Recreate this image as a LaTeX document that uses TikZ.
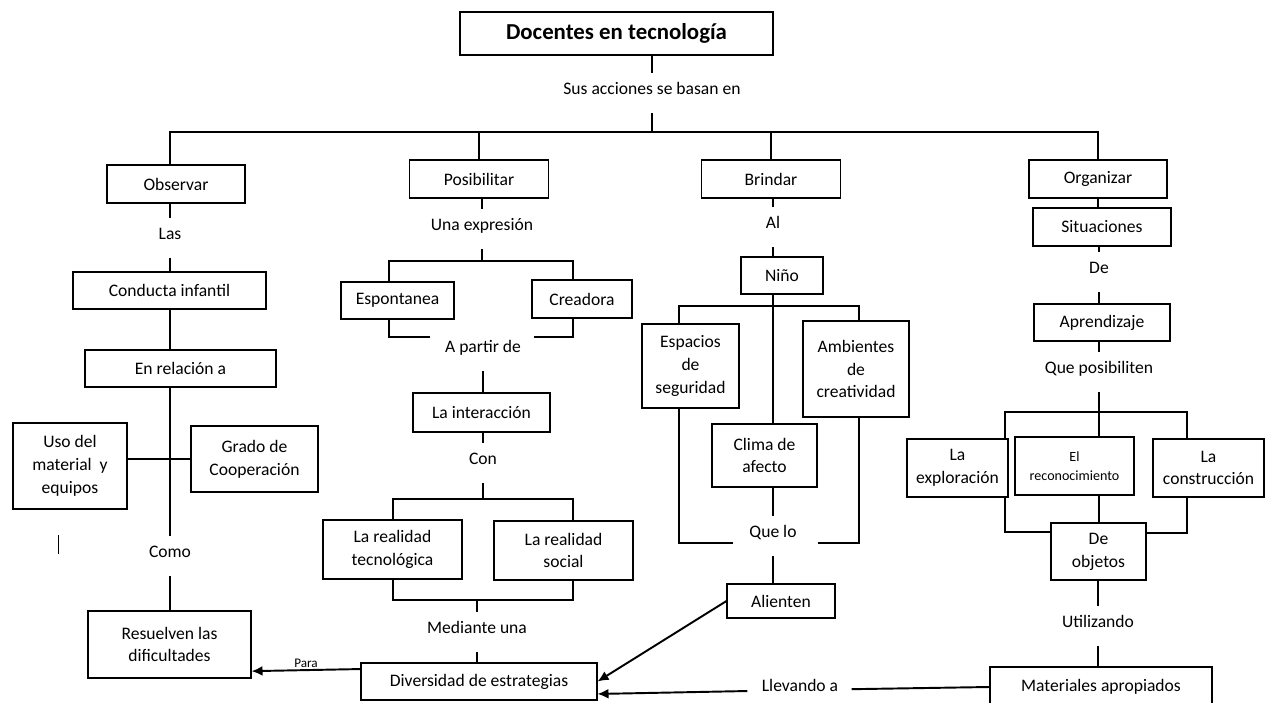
\documentclass[tikz,border=0pt]{standalone}
\usepackage{fontspec}
\setmainfont{Carlito}
\usetikzlibrary{arrows.meta}

\begin{document}
\begin{tikzpicture}[x=0.02cm,y=-0.02cm,
	box/.style={draw,line width=0.6pt,align=center,inner sep=1pt,font=\fontsize{10}{13}\selectfont},
	sz/.style 2 args={minimum width=#1*0.02cm,minimum height=#2*0.02cm},
	word/.style={font=\fontsize{10}{13}\selectfont,inner xsep=8pt,inner ysep=5pt,text height=7.4pt,text depth=6pt},
	link/.style={draw,line width=1.1pt,line cap=rect},
	arr/.style={line width=1.1pt,-{Latex[length=2.2mm,width=2mm]}}]
	\fill[white] (0,0) rectangle (1265,703);
	\useasboundingbox (0,0) rectangle (1265,703);

	% top
	\node[box,line width=0.8pt,sz={313}{43},font=\bfseries\fontsize{13}{15}\selectfont](title) at (616.5,33.5) {Docentes en tecnología};
	\node[word](sus) at (652,93) {Sus acciones se basan en};
	\coordinate (busL) at (170,132);
	\coordinate (busR) at (1098,132);
	\node[box,sz={138}{38}](obs) at (176,184) {Observar};
	\node[box,sz={139}{38}](pos) at (479,179) {Posibilitar};
	\node[box,sz={139}{38}](bri) at (771,179) {Brindar};
	\node[box,sz={138}{38}](org) at (1098,179) {Organizar};

	% observar
	\node[word](las) at (170,238) {Las};
	\node[box,sz={193}{37}](cond) at (169.5,290.5) {Conducta infantil};
	\node[box,sz={191}{37}](rel) at (180.5,368.5) {En relación a};
	\node[box,sz={114}{86}](uso) at (70,466) {Uso del\\material~~y\\equipos};
	\node[box,sz={127}{66}](grado) at (254.5,459) {Grado de\\Cooperación};
	\node[word](como) at (170,556) {Como};
	\node[box,sz={163}{67}](res) at (169.5,644.5) {Resuelven las\\dificultades};

	% posibilitar
	\node[word](expr) at (482,229) {Una expresión};
	\coordinate (eL) at (389,261);
	\coordinate (eR) at (573,261);
	\node[box,sz={113}{37}](espo) at (397.5,300.5) {Espontanea};
	\node[box,sz={100}{38}](crea) at (582,299) {Creadora};
	\node[word](apd) at (483,351) {A partir de};
	\coordinate (aL) at (429,337);
	\coordinate (aR) at (535,337);
	\node[box,sz={137}{39}](inter) at (481.5,412.5) {La interacción};
	\node[word](con) at (483,463) {Con};
	\coordinate (rL) at (393,499);
	\coordinate (rR) at (573,499);
	\node[box,sz={139}{59}](rtec) at (392.5,549.5) {La realidad\\tecnológica};
	\node[box,sz={139}{59}](rsoc) at (563.5,550.5) {La realidad\\social};
	\coordinate (mL) at (393,600);
	\coordinate (mR) at (573,600);
	\node[word](med) at (477,632) {Mediante una};
	\node[box,sz={236}{37}](div) at (479,681.5) {Diversidad de estrategias};

	% brindar
	\node[word](al) at (773,227) {Al};
	\node[box,sz={82}{37}](nino) at (782,275.5) {Niño};
	\coordinate (nL) at (679,306);
	\coordinate (nR) at (859,306);
	\node[box,sz={97}{84}](esp) at (690.5,366) {Espacios\\de\\seguridad};
	\node[box,sz={106}{96}](amb) at (856,369) {Ambientes\\de\\creatividad};
	\node[box,sz={105}{63}](clima) at (764.5,455.5) {Clima de\\afecto};
	\node[word](quelo) at (773,536) {Que lo};
	\coordinate (qL) at (732,543);
	\coordinate (qR) at (819,543);
	\node[box,sz={108}{34}](ali) at (781,601) {Alienten};

	% organizar
	\node[box,sz={138}{38}](sit) at (1102,227) {Situaciones};
	\node[word](de) at (1099,272) {De};
	\node[box,sz={136}{37}](apr) at (1102,322.5) {Aprendizaje};
	\node[word](qpos) at (1099,372) {Que posibiliten};
	\coordinate (oL) at (1005,412);
	\coordinate (oR) at (1187,412);
	\node[box,sz={101}{58}](exp) at (957.5,468) {La\\exploración};
	\node[box,sz={119}{58},font=\fontsize{8}{11}\selectfont](rec) at (1074.5,466) {El\\reconocimiento};
	\node[box,sz={111}{58}](cons) at (1208.5,468) {La\\construcción};
	\node[box,sz={95}{57}](obj) at (1098.5,551.5) {De\\objetos};
	\node[word](util) at (1098,626) {Utilizando};
	\node[box,sz={222}{40}](mat) at (1101,687) {Materiales apropiados};
	\node[word](llev) at (800,690) {Llevando a};

	% trunk
	\draw[link] (sus |- title.south) -- (sus);
	\draw[link] (sus) -- (sus |- busL);
	\draw[link] (busL |- obs.north) -- (busL) -- (busR) -- (org.north);
	\draw[link] (pos.north |- busL) -- (pos.north);
	\draw[link] (bri.north |- busL) -- (bri.north);

	% observar
	\draw[link] (las |- obs.south) -- (las);
	\draw[link] (las) -- (las |- cond.north);
	\draw[link] (las |- cond.south) -- (las |- rel.north);
	\draw[link] (las |- rel.south) -- (como);
	\draw[link] (uso.east |- grado) -- (grado.west);
	\draw[link] (como) -- (como |- res.north);
	\draw[line width=0.5pt] (58,535) -- (58,554);

	% posibilitar
	\draw[link] (expr |- pos.south) -- (expr);
	\draw[link] (expr) -- (expr |- eL);
	\draw[link] (eL |- espo.north) -- (eL) -- (eR) -- (eR |- crea.north);
	\draw[link] (eL |- espo.south) |- (aL);
	\draw[link] (eR |- crea.south) |- (aR);
	\draw[link] (apd) -- (apd |- inter.north);
	\draw[link] (con |- inter.south) -- (con);
	\draw[link] (con) -- (con |- rL);
	\draw[link] (rL |- rtec.north) -- (rL) -- (rR) -- (rR |- rsoc.north);
	\draw[link] (rL |- rtec.south) -- (mL) -- (mR) -- (mR |- rsoc.south);
	\draw[link] (med |- mL) -- (med);
	\draw[link] (med) -- (med |- div.north);

	% brindar
	\draw[link] (al |- bri.south) -- (al);
	\draw[link] (al) -- (al |- nino.north);
	\draw[link] (nL |- esp.north) -- (nL) -- (nR) -- (nR |- amb.north);
	\draw[link] (al |- nino.south) -- (al |- clima.north);
	\draw[link] (nL |- esp.south) |- (qL);
	\draw[link] (nR |- amb.south) |- (qR);
	\draw[link] (quelo |- clima.south) -- (quelo);
	\draw[link] (quelo) -- (quelo |- ali.north);

	% organizar
	\draw[link] (org.south) -- (org.south |- sit.north);
	\draw[link] (de |- sit.south) -- (de);
	\draw[link] (de) -- (de |- apr.north);
	\draw[link] (qpos |- apr.south) -- (qpos);
	\draw[link] (qpos) -- (qpos |- oL);
	\draw[link] (oL |- exp.north) -- (oL) -- (oR) -- (oR |- cons.north);
	\draw[link] (qpos |- oL) -- (qpos |- rec.north);
	\draw[link] (qpos |- rec.south) -- (qpos |- obj.north);
	\draw[link] (oL |- exp.south) |- (obj.158);
	\draw[link] (oR |- cons.south) |- (obj.21);
	\draw[link] (util |- obj.south) -- (util);
	\draw[link] (util) -- (util |- mat.north);
	\draw[link] (mat.west) -- (llev);

	% arrows
	\draw[arr] (ali.west) -- (div.east);
	\draw[arr] (llev) -- (div.-6);
	\draw[arr] (div.174) -- node[above,font=\fontsize{7.5}{9}\selectfont,inner sep=1pt](para){Para} (res.-18);
\end{tikzpicture}
\end{document}
